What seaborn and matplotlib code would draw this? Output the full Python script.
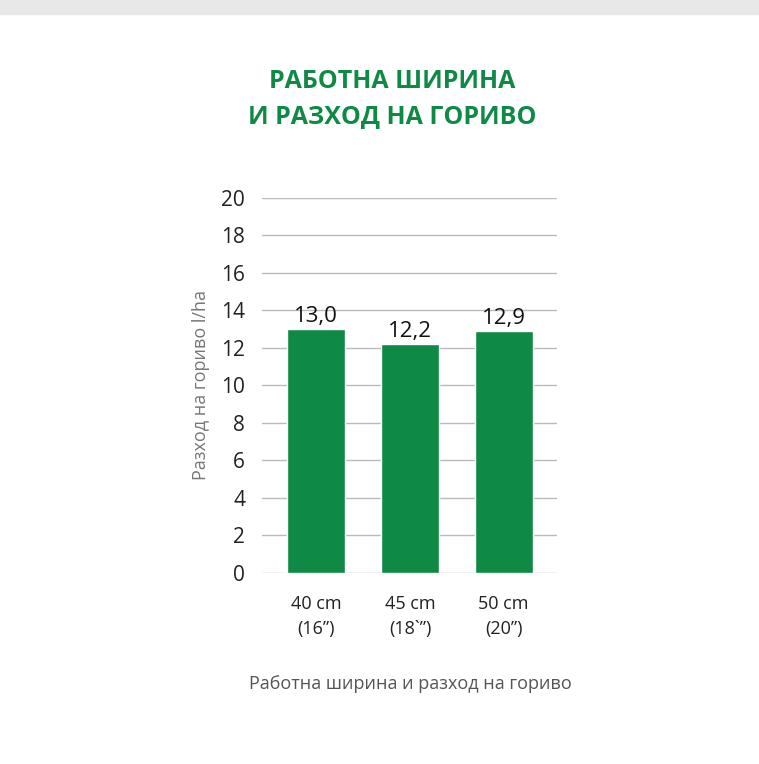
import matplotlib
matplotlib.use("Agg")
import matplotlib.pyplot as plt
import seaborn as sns
import pandas as pd

categories = ["40 cm\n(16\u201d)", "45 cm\n(18`\u201d)", "50 cm\n(20\u201d)"]
values = [13.0, 12.2, 12.9]
value_labels = ["13,0", "12,2", "12,9"]
yticks = [0, 2, 4, 6, 8, 10, 12, 14, 16, 18, 20]

sns.set_style("white")
plt.rcParams['font.family'] = ['Open Sans', 'DejaVu Sans']

fig = plt.figure(figsize=(7.59, 7.64), dpi=100)
fig.patches.append(plt.Rectangle((0, 0.982), 1, 0.018, transform=fig.transFigure, color="#e8e8e8", zorder=0))
ax = fig.add_axes([0.345, 0.25, 0.389, 0.491])
df = pd.DataFrame({"cat": categories, "val": values})
sns.barplot(data=df, x="cat", y="val", color="#0f8a45", width=0.62, saturation=1, ax=ax, zorder=3)
ax.set_ylim(0, 20)
ax.set_xlim(-0.58, 2.57)
ax.set_yticks(yticks)
ax.set_yticklabels([str(t) for t in yticks], fontsize=15, color="#222222")
ax.tick_params(axis="x", labelsize=13, colors="#222222", pad=16, length=0)
for t in ax.get_xticklabels():
    t.set_linespacing(1.5)
ax.tick_params(axis="y", length=0, pad=12)
ax.yaxis.grid(True, color="#bbbbbb", linewidth=1, zorder=0)
for s in ax.spines.values():
    s.set_visible(False)
for i, (v, lab) in enumerate(zip(values, value_labels)):
    ax.text(i, v + 0.1, lab, ha="center", va="bottom", fontsize=16, color="#111111")
ax.set_xlabel("")
ax.set_ylabel("Разход на гориво l/ha", fontsize=13, color="#777777", labelpad=8)
fig.text(410/759, 1 - 684/764, "Работна ширина и разход на гориво", ha="center", va="center",
         fontsize=13, color="#555555")
fig.text(392/759, 1 - 99/764, "РАБОТНА ШИРИНА\nИ РАЗХОД НА ГОРИВО", ha="center", va="center",
         fontsize=18, fontweight="bold", color="#0f8a45", linespacing=1.55)
fig.savefig("out.png", dpi=100)
